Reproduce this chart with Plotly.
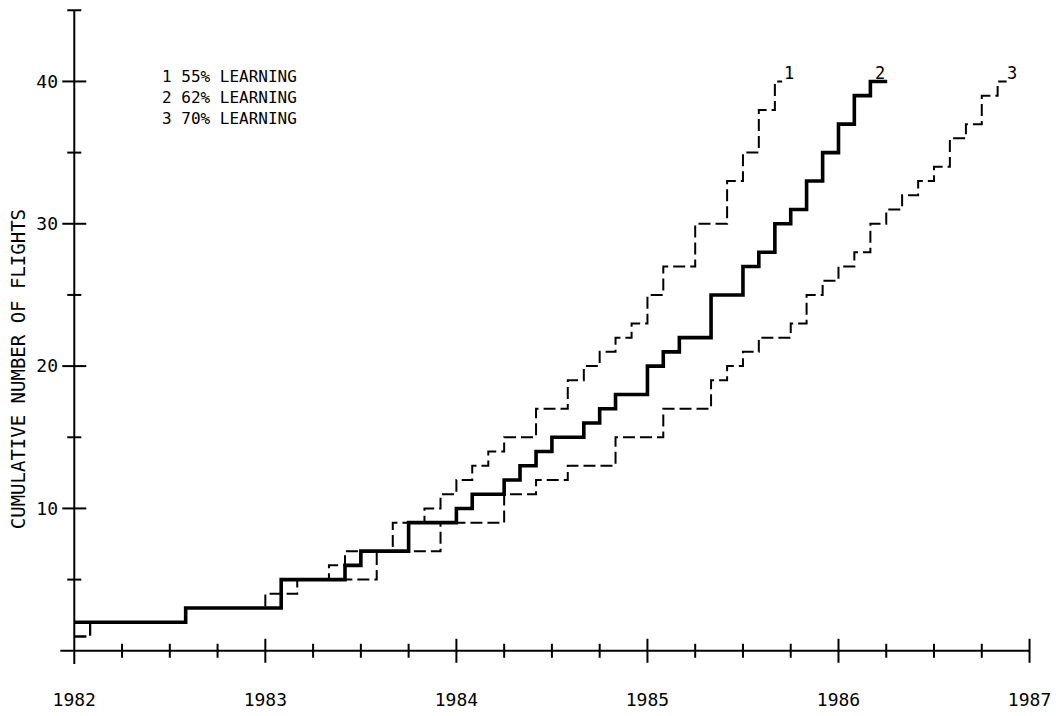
import plotly.graph_objects as go

# ---- data ----
# step times in decimal years, cumulative number of flights after each step
years_55 = [1982.0, 1982.083, 1982.583, 1983.0, 1983.167, 1983.333, 1983.417, 1983.667,
            1983.833, 1983.917, 1984.0, 1984.083, 1984.167, 1984.25, 1984.417, 1984.583,
            1984.667, 1984.75, 1984.833, 1984.917, 1985.0, 1985.083, 1985.25, 1985.417,
            1985.5, 1985.583, 1985.667, 1985.705]
flights_55 = [1, 2, 3, 4, 5, 6, 7, 9,
              10, 11, 12, 13, 14, 15, 17, 19,
              20, 21, 22, 23, 25, 27, 30, 33,
              35, 38, 40, 40]

years_62 = [1982.0, 1982.583, 1983.083, 1983.417, 1983.5, 1983.75, 1984.0, 1984.083,
            1984.25, 1984.333, 1984.417, 1984.5, 1984.667, 1984.75, 1984.833, 1985.0,
            1985.083, 1985.167, 1985.333, 1985.5, 1985.583, 1985.667, 1985.75, 1985.833,
            1985.917, 1986.0, 1986.083, 1986.167, 1986.255]
flights_62 = [2, 3, 5, 6, 7, 9, 10, 11,
              12, 13, 14, 15, 16, 17, 18, 20,
              21, 22, 25, 27, 28, 30, 31, 33,
              35, 37, 39, 40, 40]

years_70 = [1982.0, 1982.083, 1982.583, 1983.083, 1983.583, 1983.917, 1984.25, 1984.417,
            1984.583, 1984.833, 1985.083, 1985.333, 1985.417, 1985.5, 1985.583, 1985.75,
            1985.833, 1985.917, 1986.0, 1986.083, 1986.167, 1986.25, 1986.333, 1986.417,
            1986.5, 1986.583, 1986.667, 1986.75, 1986.833, 1986.88]
flights_70 = [1, 2, 3, 5, 7, 9, 11, 12,
              13, 15, 17, 19, 20, 21, 22, 23,
              25, 26, 27, 28, 30, 31, 32, 33,
              34, 36, 37, 39, 40, 40]

curve_labels = ["1", "2", "3"]
legend_lines = ["1 55% LEARNING", "2 62% LEARNING", "3 70% LEARNING"]

x_tick_vals = [1982, 1983, 1984, 1985, 1986, 1987]
x_tick_text = ["1982", "1983", "1984", "1985", "1986", "1987"]
x_minor_ticks = [1982.25, 1982.5, 1982.75, 1983.25, 1983.5, 1983.75, 1984.25, 1984.5,
                 1984.75, 1985.25, 1985.5, 1985.75, 1986.25, 1986.5, 1986.75]
y_tick_vals = [10, 20, 30, 40]
y_tick_text = ["10", "20", "30", "40"]
y_minor_ticks = [5, 15, 25, 35, 45]

y_title = "CUMULATIVE NUMBER OF FLIGHTS"

# ---- figure ----
FONT = "DejaVu Sans Mono"
W, H = 1058, 716
X0, X1 = 1981.92, 1987.06
Y0, Y1 = -1.0, 45.3
PX_YR = 191.06
PX_UNIT = 14.27
L = 74 - (1982 - X0) * PX_YR
PW = (X1 - X0) * PX_YR
R = W - L - PW
T = 652.6 - Y1 * PX_UNIT
PH = (Y1 - Y0) * PX_UNIT
B = H - T - PH

fig = go.Figure()

series = [
    (years_55, flights_55, "12px,5px", 2.0),
    (years_62, flights_62, "solid", 3.6),
    (years_70, flights_70, "12px,5px", 2.0),
]
for xs, ys, dash, w in series:
    fig.add_trace(go.Scatter(x=xs, y=ys, mode="lines",
                             line=dict(shape="hv", color="black", width=w, dash=dash),
                             showlegend=False, hoverinfo="skip"))

shapes = []
# axis lines
shapes.append(dict(type="line", xref="x", yref="y", x0=1982, x1=1982, y0=-0.93, y1=45,
                   line=dict(color="black", width=2)))
shapes.append(dict(type="line", xref="x", yref="y", x0=1981.927, x1=1987, y0=0, y1=0,
                   line=dict(color="black", width=2)))
# crossing ticks
for v in y_tick_vals:
    shapes.append(dict(type="line", xref="x", yref="y", xsizemode="pixel", xanchor=1982,
                       x0=-12, x1=12, y0=v, y1=v, line=dict(color="black", width=2)))
for v in y_minor_ticks:
    shapes.append(dict(type="line", xref="x", yref="y", xsizemode="pixel", xanchor=1982,
                       x0=-7, x1=7, y0=v, y1=v, line=dict(color="black", width=2)))
for v in x_tick_vals[1:]:
    shapes.append(dict(type="line", xref="x", yref="y", ysizemode="pixel", yanchor=0,
                       y0=-12, y1=12, x0=v, x1=v, line=dict(color="black", width=2)))
for v in x_minor_ticks:
    shapes.append(dict(type="line", xref="x", yref="y", ysizemode="pixel", yanchor=0,
                       y0=-7, y1=7, x0=v, x1=v, line=dict(color="black", width=2)))

annotations = []
# legend text (one block, left aligned)
annotations.append(dict(text="<br>".join(legend_lines), xref="x", yref="y",
                        x=1982.45, y=38.9, xanchor="left", yanchor="middle", align="left",
                        showarrow=False, font=dict(family=FONT, size=16, color="black")))
# curve end labels
ends = [(years_55, flights_55, "left", 0), (years_62, flights_62, "right", 0),
        (years_70, flights_70, "left", -2)]
for lab, (xs, ys, anc, sh) in zip(curve_labels, ends):
    annotations.append(dict(text=lab, xref="x", yref="y", x=xs[-1], y=ys[-1],
                            xanchor=anc, yanchor="bottom", xshift=sh, yshift=-4,
                            showarrow=False,
                            font=dict(family=FONT, size=17, color="black")))
# y-axis title
annotations.append(dict(text=y_title, xref="paper", yref="y", x=(18 - L) / PW, y=19.8,
                        xanchor="center", yanchor="middle", textangle=-90, showarrow=False,
                        font=dict(family=FONT, size=19, color="black")))

fig.update_layout(
    width=W, height=H, autosize=False,
    margin=dict(l=L, r=R, t=T, b=B, pad=0),
    paper_bgcolor="white", plot_bgcolor="white",
    shapes=shapes, annotations=annotations,
    xaxis=dict(range=[X0, X1], showgrid=False, zeroline=False, showline=False,
               tickmode="array", tickvals=x_tick_vals, ticktext=x_tick_text, ticks="",
               ticklabelstandoff=22,
               tickfont=dict(family=FONT, size=18, color="black")),
    yaxis=dict(range=[Y0, Y1], showgrid=False, zeroline=False, showline=False,
               tickmode="array", tickvals=y_tick_vals, ticktext=y_tick_text, ticks="",
               ticklabelstandoff=0,
               tickfont=dict(family=FONT, size=18, color="black")),
)

fig.write_html("out.html", config={"displayModeBar": False},
               post_script="document.body.style.margin='0px';")
